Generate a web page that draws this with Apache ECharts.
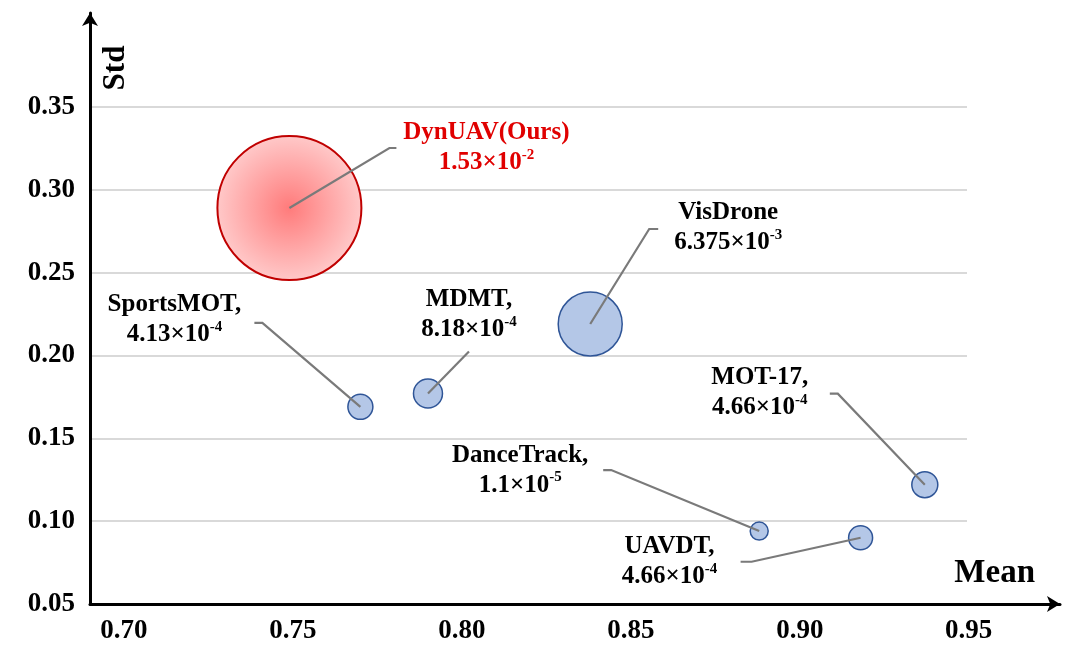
<!DOCTYPE html>
<html>
<head>
<meta charset="utf-8">
<script src="https://cdn.jsdelivr.net/npm/echarts@6/dist/echarts.min.js"></script>
<style>
html, body { margin: 0; padding: 0; background: #fff; }
#chart { width: 1080px; height: 657px; }
</style>
</head>
<body>
<div id="chart"></div>
<script>
// data
var titles = ['DynUAV(Ours)', 'VisDrone', 'MDMT,', 'SportsMOT,', 'MOT-17,', 'DanceTrack,', 'UAVDT,'];
var means = [0.749, 0.838, 0.790, 0.770, 0.937, 0.888, 0.918];
var stds = [0.289, 0.219, 0.177, 0.169, 0.122, 0.094, 0.090];
var mantissas = ['1.53', '6.375', '8.18', '4.13', '4.66', '1.1', '4.66'];
var exponents = ['-2', '-3', '-4', '-4', '-4', '-5', '-4'];
var bubbleSize = [144, 64, 29, 25, 26, 18, 24];
var xTicks = [0.70, 0.75, 0.80, 0.85, 0.90, 0.95];
var yTicks = [0.05, 0.10, 0.15, 0.20, 0.25, 0.30, 0.35];

// callout layout, pixels from the bubble centre: elbow x/y, tail end x, text x/y
var callouts = [
    [100, -60, 107, 197, -60],
    [59, -95, 68, 138, -96],
    [41, -42, 41, 41, -79],
    [-98, -84, -106, -186, -87],
    [-87, -91, -95, -165, -92],
    [-148, -61, -156, -239, -61],
    [-109, 24, -120, -191, 24]
];

var serif = 'Liberation Serif, Times New Roman, serif';
var chart = echarts.init(document.getElementById('chart'));

var points = [];
for (var i = 0; i < means.length; i++) {
    var ours = i === 0;
    points.push({
        value: [means[i], stds[i]],
        itemStyle: ours ? {
            color: {
                type: 'radial', x: 0.5, y: 0.5, r: 0.5,
                colorStops: [{ offset: 0, color: '#ff7b7b' }, { offset: 1, color: '#ffc9c9' }]
            },
            borderColor: '#c00000',
            borderWidth: 2,
            opacity: 1
        } : {
            color: '#b4c7e7',
            borderColor: '#2f5597',
            borderWidth: 1.5,
            opacity: 1
        }
    });
}

function renderCallout(params, api) {
    var i = params.dataIndex;
    var c = api.coord([api.value(0), api.value(1)]);
    var L = callouts[i];
    var col = i === 0 ? '#e00000' : '#000';
    return {
        type: 'group',
        children: [{
            type: 'polyline',
            shape: { points: [[c[0], c[1]], [c[0] + L[0], c[1] + L[1]], [c[0] + L[2], c[1] + L[1]]] },
            style: { stroke: '#7a7a7a', lineWidth: 2.2, fill: null }
        }, {
            type: 'text',
            style: {
                x: c[0] + L[3],
                y: c[1] + L[4],
                align: 'center',
                verticalAlign: 'middle',
                text: '{t|' + titles[i] + '}\n{v|' + mantissas[i] + '×10}{s|' + exponents[i] + '}',
                rich: {
                    t: { fontFamily: serif, fontWeight: 'bold', fontSize: 25, lineHeight: 30, fill: col, color: col },
                    v: { fontFamily: serif, fontWeight: 'bold', fontSize: 25, lineHeight: 30, fill: col, color: col },
                    s: { fontFamily: serif, fontWeight: 'bold', fontSize: 15, lineHeight: 16, verticalAlign: 'top', fill: col, color: col }
                }
            }
        }]
    };
}

var option = {
    animation: false,
    backgroundColor: '#fff',
    grid: [
        { left: 90, right: 20, top: 13, bottom: 53 },
        { left: 90, right: 113, top: 107, bottom: 53 }
    ],
    xAxis: [{
        type: 'value',
        gridIndex: 0,
        min: 0.69,
        max: 0.977,
        name: 'Mean',
        nameLocation: 'end',
        nameGap: -25,
        nameTextStyle: {
            fontFamily: serif, fontWeight: 'bold', fontSize: 33, color: '#000',
            align: 'right', verticalAlign: 'bottom', padding: [0, 0, 14, 0]
        },
        axisLine: { show: true, symbol: ['none', 'arrow'], symbolSize: [12, 13], lineStyle: { color: '#000', width: 3 } },
        axisTick: { show: false },
        splitLine: { show: false },
        axisLabel: {
            customValues: xTicks,
            margin: 14,
            fontFamily: serif, fontWeight: 'bold', fontSize: 27, color: '#000',
            formatter: function (v) { return v.toFixed(2); }
        }
    }, {
        type: 'value',
        gridIndex: 1,
        min: 0.69,
        max: 0.977,
        show: false
    }],
    yAxis: [{
        type: 'value',
        gridIndex: 0,
        min: 0.05,
        max: 0.4067,
        name: 'Std',
        nameLocation: 'end',
        nameRotate: 90,
        nameGap: -55,
        nameTextStyle: {
            fontFamily: serif, fontWeight: 'bold', fontSize: 31, color: '#000',
            align: 'center', verticalAlign: 'top', padding: [10, 0, 0, 0]
        },
        axisLine: { show: true, symbol: ['none', 'arrow'], symbolSize: [12, 13], lineStyle: { color: '#000', width: 3 } },
        axisTick: { show: false },
        splitLine: { show: false },
        axisLabel: {
            customValues: yTicks,
            margin: 15,
            fontFamily: serif, fontWeight: 'bold', fontSize: 27, color: '#000',
            formatter: function (v) { return v.toFixed(2); }
        }
    }, {
        type: 'value',
        gridIndex: 1,
        min: 0.05,
        max: 0.35,
        interval: 0.05,
        axisLine: { show: false },
        axisTick: { show: false },
        axisLabel: { show: false },
        splitLine: { show: true, lineStyle: { color: '#d9d9d9', width: 2 } }
    }],
    series: [{
        type: 'scatter',
        xAxisIndex: 0,
        yAxisIndex: 0,
        symbol: 'circle',
        symbolSize: function (val, params) { return bubbleSize[params.dataIndex]; },
        data: points,
        z: 2
    }, {
        type: 'custom',
        xAxisIndex: 0,
        yAxisIndex: 0,
        renderItem: renderCallout,
        data: means.map(function (m, i) { return [m, stds[i]]; }),
        z: 4
    }]
};

chart.setOption(option);
</script>
</body>
</html>
